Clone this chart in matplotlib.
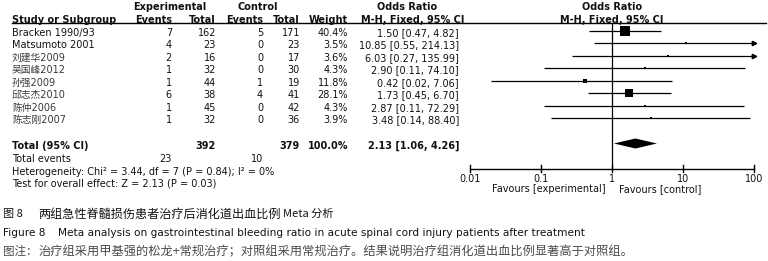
import matplotlib
matplotlib.use("Agg")
import matplotlib.pyplot as plt
import numpy as np

plt.rcParams['font.family'] = ['DejaVu Sans', 'Noto Sans CJK SC']

studies = ['Bracken 1990/93', 'Matsumoto 2001', '刘建华2009', '吴国峰2012',
           '孙强2009', '邱志杰2010', '陈仲2006', '陈志刚2007']
exp_events = [7, 4, 2, 1, 1, 6, 1, 1]
exp_total = [162, 23, 16, 32, 44, 38, 45, 32]
ctl_events = [5, 0, 0, 0, 1, 4, 0, 0]
ctl_total = [171, 23, 17, 30, 19, 41, 42, 36]
weights = [40.4, 3.5, 3.6, 4.3, 11.8, 28.1, 4.3, 3.9]
odds = [1.50, 10.85, 6.03, 2.90, 0.42, 1.73, 2.87, 3.48]
ci_lo = [0.47, 0.55, 0.27, 0.11, 0.02, 0.45, 0.11, 0.14]
ci_hi = [4.82, 214.13, 135.99, 74.10, 7.06, 6.70, 72.29, 88.40]

total_exp = 392
total_ctl = 379
total_events_exp = 23
total_events_ctl = 10
pooled_or = 2.13
pooled_lo = 1.06
pooled_hi = 4.26
ticks = [0.01, 0.1, 1, 10, 100]
tick_labels = ['0.01', '0.1', '1', '10', '100']

fig = plt.figure(figsize=(7.68, 2.61), dpi=100)
fig.patch.set_facecolor('white')

tx = fig.add_axes([0, 0, 1, 1])
tx.set_xlim(0, 768)
tx.set_ylim(261, 0)
tx.axis('off')

fa = fig.add_axes([470 / 768, 0, 284.3 / 768, 1])
fa.set_xscale('log')
fa.set_xlim(0.01, 100)
fa.set_ylim(261, 0)
fa.axis('off')
fa.patch.set_alpha(0)

TC = '#111111'
FS = 7.0
row_y = [31 + 12.45 * i for i in range(len(studies))]

# headers
tx.text(170, 7, 'Experimental', ha='center', va='center', fontsize=FS, fontweight='bold', color=TC)
tx.text(258, 7, 'Control', ha='center', va='center', fontsize=FS, fontweight='bold', color=TC)
tx.text(407, 7, 'Odds Ratio', ha='center', va='center', fontsize=FS, fontweight='bold', color=TC)
fa.text(1, 7, 'Odds Ratio', ha='center', va='center', fontsize=FS, fontweight='bold', color=TC)
hy = 19.8
tx.text(12, hy, 'Study or Subgroup', ha='left', va='center', fontsize=FS, fontweight='bold', color=TC)
tx.text(172, hy, 'Events', ha='right', va='center', fontsize=FS, fontweight='bold', color=TC)
tx.text(216, hy, 'Total', ha='right', va='center', fontsize=FS, fontweight='bold', color=TC)
tx.text(263, hy, 'Events', ha='right', va='center', fontsize=FS, fontweight='bold', color=TC)
tx.text(300, hy, 'Total', ha='right', va='center', fontsize=FS, fontweight='bold', color=TC)
tx.text(348, hy, 'Weight', ha='right', va='center', fontsize=FS, fontweight='bold', color=TC)
tx.text(413, hy, 'M-H, Fixed, 95% CI', ha='center', va='center', fontsize=FS, fontweight='bold', color=TC)
fa.text(1, hy, 'M-H, Fixed, 95% CI', ha='center', va='center', fontsize=FS, fontweight='bold', color=TC)
tx.plot([12, 766], [23, 23], color='black', lw=1.0)

# rows
for i, name in enumerate(studies):
    y = row_y[i] + 2
    col = TC if name[0].isascii() else '#3a3a3a'
    tx.text(12, y, name, ha='left', va='center', fontsize=FS, color=col)
    tx.text(172, y, str(exp_events[i]), ha='right', va='center', fontsize=FS, color=TC)
    tx.text(216, y, str(exp_total[i]), ha='right', va='center', fontsize=FS, color=TC)
    tx.text(263, y, str(ctl_events[i]), ha='right', va='center', fontsize=FS, color=TC)
    tx.text(300, y, str(ctl_total[i]), ha='right', va='center', fontsize=FS, color=TC)
    tx.text(348, y, f'{weights[i]:.1f}%', ha='right', va='center', fontsize=FS, color=TC)
    tx.text(459, y, f'{odds[i]:.2f} [{ci_lo[i]:.2f}, {ci_hi[i]:.2f}]', ha='right', va='center',
            fontsize=FS, color=TC)

    lo = max(ci_lo[i], 0.01)
    hi = min(ci_hi[i], 100)
    fa.plot([lo, hi], [row_y[i], row_y[i]], color='black', lw=0.9, solid_capstyle='butt')
    if ci_hi[i] > 100:
        fa.plot([100], [row_y[i]], marker='>', color='black', ms=3.2, clip_on=False)
    side = 1.42 * np.sqrt(weights[i]) * 0.72
    fa.plot([odds[i]], [row_y[i]], marker='s', color='black', ms=side, mew=0)

# total row
ty = 146
tx.text(12, ty, 'Total (95% CI)', ha='left', va='center', fontsize=FS, fontweight='bold', color=TC)
tx.text(216, ty, str(total_exp), ha='right', va='center', fontsize=FS, fontweight='bold', color=TC)
tx.text(300, ty, str(total_ctl), ha='right', va='center', fontsize=FS, fontweight='bold', color=TC)
tx.text(348, ty, '100.0%', ha='right', va='center', fontsize=FS, fontweight='bold', color=TC)
tx.text(459, ty, f'{pooled_or:.2f} [{pooled_lo:.2f}, {pooled_hi:.2f}]', ha='right', va='center',
        fontsize=FS, fontweight='bold', color=TC)
tx.text(12, 159, 'Total events', ha='left', va='center', fontsize=FS, color=TC)
tx.text(172, 159, str(total_events_exp), ha='right', va='center', fontsize=FS, color=TC)
tx.text(263, 159, str(total_events_ctl), ha='right', va='center', fontsize=FS, color=TC)
tx.text(12, 172, 'Heterogeneity: Chi² = 3.44, df = 7 (P = 0.84); I² = 0%', ha='left', va='center',
        fontsize=FS, color=TC)
tx.text(12, 184, 'Test for overall effect: Z = 2.13 (P = 0.03)', ha='left', va='center',
        fontsize=FS, color=TC)

# diamond
dy = 143.5
fa.fill([pooled_lo, pooled_or, pooled_hi, pooled_or], [dy, dy - 5, dy, dy + 5], color='black', lw=0)

# null line and axis
fa.plot([1, 1], [23, 169], color='black', lw=0.9)
fa.plot([0.01, 100], [169, 169], color='black', lw=1.0, clip_on=False)
for t, lab in zip(ticks, tick_labels):
    fa.plot([t, t], [165, 172], color='black', lw=1.0, clip_on=False)
    fa.text(t, 178.5, lab, ha='center', va='center', fontsize=FS, color=TC)
fa.text(0.8, 189, 'Favours [experimental]', ha='right', va='center', fontsize=FS, color=TC)
fa.text(1.25, 189, 'Favours [control]', ha='left', va='center', fontsize=FS, color=TC)

# captions
CJK = ['Noto Sans CJK SC', 'DejaVu Sans']
tx.text(3, 214, '图 8', ha='left', va='center', fontsize=8.0, color='#111111', family=CJK,
        fontweight='medium')
tx.text(38, 214, '两组急性脊髓损伤患者治疗后消化道出血比例', ha='left', va='center', fontsize=8.7,
        color='#111111', family=CJK, fontweight='medium')
tx.text(283, 214, 'Meta 分析', ha='left', va='center', fontsize=8.0, color='#111111', family=CJK,
        fontweight='medium')
tx.text(3, 233, 'Figure 8', ha='left', va='center', fontsize=7.6, color='#111111')
tx.text(58, 233, 'Meta analysis on gastrointestinal bleeding ratio in acute spinal cord injury patients after treatment',
        ha='left', va='center', fontsize=7.55, color='#111111')
tx.text(3, 251.5, '图注：', ha='left', va='center', fontsize=8.3, color='#4a4a4a', family=CJK)
tx.text(39, 251.5, '治疗组采用甲基强的松龙+常规治疗；对照组采用常规治疗。结果说明治疗组消化道出血比例显著高于对照组。',
        ha='left', va='center', fontsize=8.8, color='#4a4a4a', family=CJK)

fig.savefig('out.png', dpi=100, facecolor='white')
